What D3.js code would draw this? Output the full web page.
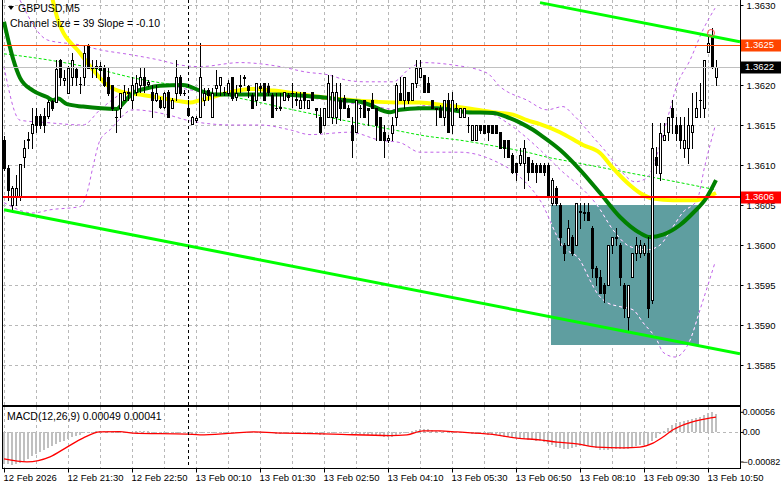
<!DOCTYPE html>
<html><head><meta charset="utf-8">
<script src="https://cdn.jsdelivr.net/npm/d3@7"></script>
<style>
body{margin:0;background:#fff}
svg{display:block}
text{font-family:'Liberation Sans',Arial,sans-serif}
</style></head>
<body><svg id="c" width="781" height="489"></svg>
<script>
// ---------------- DATA ----------------
const symbolTitle = "GBPUSD,M5";
const channelText = "Channel size = 39 Slope = -0.10";
const macdTitle = "MACD(12,26,9) 0.00049 0.00041";
const timeLabels = ["12 Feb 2026","12 Feb 21:30","12 Feb 22:50","13 Feb 00:10","13 Feb 01:30","13 Feb 02:50","13 Feb 04:10","13 Feb 05:30","13 Feb 06:50","13 Feb 08:10","13 Feb 09:30","13 Feb 10:50"];
const timeTickBars = [0,16,32,48,64,80,96,112,128,144,160,176];
const priceTicks = [1.3585,1.3590,1.3595,1.3600,1.3605,1.3610,1.3615,1.3620,1.3625,1.3630];
const macdTicks = [0.00056,0.00,-0.00082];

const opens = [1.36131,1.36096,1.36050,1.36060,1.36060,1.36110,1.36131,1.36140,1.36161,1.36161,1.36161,1.36161,1.36180,1.36179,1.36231,1.36206,1.36190,1.36210,1.36220,1.36201,1.36210,1.36250,1.36221,1.36221,1.36224,1.36221,1.36210,1.36200,1.36160,1.36171,1.36181,1.36190,1.36181,1.36191,1.36200,1.36210,1.36201,1.36191,1.36181,1.36181,1.36173,1.36191,1.36171,1.36190,1.36210,1.36190,1.36171,1.36151,1.36156,1.36160,1.36181,1.36194,1.36160,1.36196,1.36200,1.36191,1.36190,1.36210,1.36185,1.36199,1.36210,1.36199,1.36188,1.36181,1.36199,1.36203,1.36199,1.36188,1.36171,1.36171,1.36181,1.36188,1.36190,1.36181,1.36171,1.36191,1.36171,1.36191,1.36171,1.36160,1.36150,1.36160,1.36160,1.36160,1.36181,1.36184,1.36171,1.36150,1.36141,1.36171,1.36181,1.36171,1.36181,1.36171,1.36160,1.36141,1.36131,1.36140,1.36160,1.36190,1.36181,1.36191,1.36181,1.36203,1.36210,1.36213,1.36203,1.36181,1.36171,1.36171,1.36160,1.36181,1.36150,1.36171,1.36160,1.36160,1.36150,1.36131,1.36131,1.36150,1.36150,1.36150,1.36150,1.36150,1.36141,1.36131,1.36131,1.36113,1.36103,1.36103,1.36103,1.36110,1.36103,1.36100,1.36100,1.36100,1.36100,1.36053,1.36071,1.36050,1.36000,1.36000,1.36010,1.36000,1.36041,1.36041,1.36041,1.36021,1.35971,1.35960,1.35950,1.35950,1.36000,1.36010,1.36000,1.35950,1.35910,1.35960,1.35990,1.35990,1.35990,1.35990,1.35931,1.36110,1.36090,1.36131,1.36141,1.36171,1.36150,1.36150,1.36121,1.36121,1.36141,1.36160,1.36181,1.36171,1.36241,1.36263,1.36210];
const highs = [1.36136,1.36100,1.36074,1.36088,1.36101,1.36131,1.36141,1.36171,1.36171,1.36164,1.36171,1.36181,1.36181,1.36231,1.36233,1.36219,1.36224,1.36240,1.36221,1.36210,1.36250,1.36251,1.36231,1.36231,1.36229,1.36225,1.36221,1.36200,1.36169,1.36190,1.36200,1.36196,1.36210,1.36213,1.36223,1.36221,1.36206,1.36200,1.36200,1.36185,1.36191,1.36194,1.36184,1.36231,1.36213,1.36194,1.36181,1.36161,1.36161,1.36253,1.36196,1.36196,1.36196,1.36219,1.36210,1.36198,1.36206,1.36210,1.36200,1.36213,1.36213,1.36200,1.36190,1.36203,1.36203,1.36203,1.36203,1.36190,1.36190,1.36190,1.36191,1.36190,1.36203,1.36191,1.36191,1.36191,1.36181,1.36191,1.36171,1.36171,1.36171,1.36213,1.36213,1.36203,1.36203,1.36188,1.36175,1.36160,1.36181,1.36175,1.36181,1.36171,1.36190,1.36171,1.36160,1.36150,1.36138,1.36160,1.36203,1.36210,1.36210,1.36191,1.36203,1.36231,1.36231,1.36213,1.36210,1.36181,1.36171,1.36175,1.36181,1.36190,1.36191,1.36178,1.36171,1.36171,1.36160,1.36150,1.36150,1.36150,1.36150,1.36150,1.36150,1.36150,1.36141,1.36131,1.36131,1.36115,1.36103,1.36121,1.36131,1.36110,1.36106,1.36103,1.36103,1.36103,1.36103,1.36084,1.36074,1.36053,1.36003,1.36031,1.36013,1.36053,1.36053,1.36053,1.36053,1.36024,1.35974,1.35969,1.35953,1.36000,1.36010,1.36021,1.36003,1.35953,1.35950,1.35990,1.36010,1.36006,1.36003,1.36010,1.36153,1.36123,1.36153,1.36153,1.36160,1.36181,1.36160,1.36160,1.36160,1.36171,1.36190,1.36191,1.36203,1.36231,1.36263,1.36271,1.36231];
const lows = [1.36094,1.36056,1.36041,1.36050,1.36056,1.36098,1.36121,1.36121,1.36141,1.36146,1.36141,1.36159,1.36169,1.36179,1.36200,1.36200,1.36190,1.36200,1.36200,1.36190,1.36200,1.36221,1.36210,1.36210,1.36206,1.36199,1.36188,1.36169,1.36141,1.36160,1.36181,1.36181,1.36171,1.36188,1.36191,1.36191,1.36199,1.36160,1.36180,1.36171,1.36171,1.36160,1.36171,1.36181,1.36188,1.36188,1.36163,1.36151,1.36154,1.36160,1.36175,1.36181,1.36160,1.36188,1.36188,1.36188,1.36188,1.36181,1.36181,1.36191,1.36200,1.36185,1.36171,1.36175,1.36191,1.36181,1.36188,1.36160,1.36169,1.36169,1.36181,1.36181,1.36173,1.36175,1.36171,1.36171,1.36171,1.36181,1.36160,1.36140,1.36150,1.36160,1.36153,1.36153,1.36156,1.36171,1.36160,1.36110,1.36141,1.36160,1.36160,1.36150,1.36171,1.36131,1.36131,1.36110,1.36129,1.36131,1.36150,1.36181,1.36171,1.36178,1.36181,1.36198,1.36210,1.36191,1.36191,1.36171,1.36150,1.36160,1.36150,1.36141,1.36140,1.36169,1.36160,1.36160,1.36141,1.36131,1.36131,1.36140,1.36140,1.36131,1.36140,1.36140,1.36121,1.36110,1.36110,1.36090,1.36081,1.36100,1.36071,1.36081,1.36091,1.36079,1.36091,1.36088,1.36060,1.36050,1.36050,1.36000,1.35981,1.36000,1.35988,1.36000,1.36021,1.36031,1.36031,1.35960,1.35950,1.35940,1.35929,1.35950,1.35990,1.36000,1.35950,1.35910,1.35891,1.35960,1.35981,1.35985,1.35988,1.35910,1.35928,1.36090,1.36081,1.36131,1.36131,1.36140,1.36131,1.36121,1.36110,1.36103,1.36121,1.36160,1.36160,1.36160,1.36241,1.36221,1.36200];
const closes = [1.36096,1.36069,1.36071,1.36071,1.36101,1.36121,1.36133,1.36151,1.36150,1.36150,1.36150,1.36179,1.36171,1.36220,1.36210,1.36209,1.36221,1.36231,1.36210,1.36201,1.36240,1.36221,1.36221,1.36224,1.36219,1.36200,1.36190,1.36171,1.36160,1.36190,1.36191,1.36191,1.36200,1.36203,1.36210,1.36200,1.36204,1.36181,1.36190,1.36173,1.36190,1.36160,1.36181,1.36210,1.36190,1.36190,1.36163,1.36160,1.36159,1.36210,1.36190,1.36188,1.36190,1.36200,1.36210,1.36191,1.36203,1.36184,1.36190,1.36200,1.36209,1.36194,1.36171,1.36203,1.36196,1.36181,1.36191,1.36160,1.36171,1.36173,1.36191,1.36185,1.36190,1.36183,1.36181,1.36181,1.36181,1.36181,1.36169,1.36141,1.36171,1.36203,1.36191,1.36191,1.36171,1.36171,1.36160,1.36131,1.36181,1.36171,1.36160,1.36169,1.36171,1.36150,1.36131,1.36131,1.36134,1.36150,1.36200,1.36181,1.36210,1.36181,1.36203,1.36221,1.36221,1.36191,1.36191,1.36171,1.36170,1.36160,1.36181,1.36141,1.36181,1.36171,1.36171,1.36171,1.36150,1.36150,1.36150,1.36144,1.36140,1.36141,1.36140,1.36140,1.36121,1.36121,1.36110,1.36091,1.36091,1.36113,1.36121,1.36091,1.36091,1.36091,1.36091,1.36091,1.36060,1.36081,1.36053,1.36010,1.35990,1.36021,1.35990,1.36053,1.36043,1.36040,1.36031,1.35971,1.35960,1.35940,1.35940,1.36000,1.36010,1.36009,1.35960,1.35921,1.35950,1.35990,1.36000,1.36000,1.36000,1.35921,1.36121,1.36100,1.36140,1.36138,1.36160,1.36160,1.36140,1.36131,1.36131,1.36150,1.36150,1.36171,1.36181,1.36231,1.36253,1.36223,1.36223];

// MACD main (histogram) per bar
const macdMain = [-0.00088,-0.00090,-0.00092,-0.00090,-0.00086,-0.00080,-0.00074,-0.00066,-0.00060,-0.00055,-0.00050,-0.00045,-0.00040,-0.00033,-0.00028,-0.00024,-0.00019,-0.00014,-0.00011,-0.00008,-0.00004,-0.00002,0.00001,0.00003,0.00004,0.00004,0.00003,0.00001,-0.00001,-0.00001,-0.00001,0.00000,0.00001,0.00002,0.00003,0.00003,0.00002,0.00000,-0.00001,-0.00002,-0.00002,-0.00003,-0.00003,-0.00001,-0.00002,-0.00003,-0.00005,-0.00007,-0.00008,-0.00004,-0.00004,-0.00003,-0.00003,-0.00002,-0.00001,-0.00001,0.00000,-0.00001,-0.00001,0.00000,0.00001,0.00000,-0.00002,-0.00001,-0.00001,-0.00002,-0.00002,-0.00004,-0.00005,-0.00005,-0.00004,-0.00004,-0.00004,-0.00004,-0.00004,-0.00004,-0.00004,-0.00004,-0.00005,-0.00007,-0.00007,-0.00004,-0.00003,-0.00002,-0.00003,-0.00003,-0.00004,-0.00007,-0.00006,-0.00006,-0.00007,-0.00008,-0.00008,-0.00010,-0.00012,-0.00014,-0.00014,-0.00013,-0.00008,-0.00006,-0.00002,0.00000,0.00002,0.00006,0.00008,0.00008,0.00007,0.00005,0.00003,0.00002,0.00002,-0.00001,-0.00001,-0.00002,-0.00002,-0.00003,-0.00004,-0.00005,-0.00005,-0.00006,-0.00006,-0.00007,-0.00008,-0.00009,-0.00011,-0.00013,-0.00015,-0.00017,-0.00018,-0.00019,-0.00019,-0.00021,-0.00022,-0.00024,-0.00026,-0.00029,-0.00033,-0.00037,-0.00042,-0.00044,-0.00046,-0.00046,-0.00045,-0.00042,-0.00040,-0.00039,-0.00038,-0.00041,-0.00045,-0.00049,-0.00051,-0.00050,-0.00048,-0.00047,-0.00047,-0.00048,-0.00046,-0.00043,-0.00040,-0.00037,-0.00035,-0.00036,-0.00026,-0.00016,-0.00006,0.00004,0.00012,0.00020,0.00025,0.00028,0.00030,0.00033,0.00037,0.00040,0.00042,0.00047,0.00052,0.00056,0.00049];
// MACD signal, read as [bar, value]
const macdSignal = [[0,-0.00075],[5.75,-0.00083],[11.5,-0.00069],[15.75,-0.00042],[19.75,-0.00017],[24,0],[29,0.00001],[32.25,-0.00003],[45.75,-0.00006],[49,-0.00008],[57.25,-0.00003],[62.25,0],[69.75,-0.00003],[82.25,-0.00006],[96.5,-0.00010],[100.75,-0.00008],[104.75,0.00003],[109,0.00003],[113.25,0],[121.5,-0.00006],[128.25,-0.00017],[134,-0.00022],[138.25,-0.00028],[143.25,-0.00033],[148.25,-0.00042],[154.75,-0.00044],[159,-0.00042],[162.25,-0.00031],[164.75,-0.00014],[167.25,0.00006],[171.5,0.00026],[175.75,0.00037],[178,0.00041]];

// indicator lines, read as [bar, price]
const greenMA = [[0,1.36279],[2.25,1.36233],[4,1.36209],[7.25,1.36193],[10.75,1.36185],[12.25,1.36181],[13.5,1.36183],[15.75,1.36176],[19.75,1.36173],[28.25,1.36170],[29,1.36173],[32.25,1.36190],[35.75,1.36196],[39,1.36199],[44.75,1.36200],[49,1.36193],[52.25,1.36188],[60.75,1.36188],[69,1.36188],[76.5,1.36186],[80.75,1.36184],[84.75,1.36181],[89,1.36179],[91.5,1.36175],[96.5,1.36166],[99,1.36169],[104,1.36171],[108.25,1.36171],[115.75,1.36166],[122.25,1.36165],[125.75,1.36160],[129,1.36153],[132.25,1.36144],[134,1.36138],[139,1.36119],[144,1.36094],[149,1.36065],[154,1.36035],[159,1.36015],[161.5,1.36010],[164.75,1.36013],[169,1.36025],[172.25,1.36040],[175.75,1.36060],[178,1.36081]];
const yellowMA = [[12,1.36310],[13.5,1.36281],[19,1.36240],[22.25,1.36219],[25.75,1.36200],[29.75,1.36191],[34,1.36188],[39,1.36184],[44.75,1.36179],[46.5,1.36178],[49,1.36181],[52.25,1.36185],[56.5,1.36191],[62.25,1.36195],[67.25,1.36193],[72.25,1.36190],[80.75,1.36184],[87.25,1.36181],[93.25,1.36179],[99,1.36178],[104,1.36178],[109.75,1.36175],[115.75,1.36171],[122.25,1.36166],[127.25,1.36163],[130.75,1.36156],[134,1.36151],[139,1.36141],[144.75,1.36125],[149,1.36115],[152.25,1.36096],[155.75,1.36078],[159,1.36065],[162.25,1.36058],[167.25,1.36056],[173.25,1.36056],[175.75,1.36060],[178,1.36065]];
const slowMA = [[0,1.36239],[11.5,1.36231],[24,1.36219],[32.25,1.36209],[44.75,1.36198],[64,1.36178],[72.25,1.36169],[84.75,1.36156],[97.25,1.36144],[105.75,1.36136],[114,1.36131],[122.25,1.36124],[130.75,1.36116],[136.5,1.36109],[139.75,1.36106],[156.5,1.36090],[169,1.36078],[178,1.36069]];
// Bollinger bands (upper, middle, lower)
const bandUpper = [[4,1.36306],[11,1.36256],[19,1.36250],[24,1.36244],[31.5,1.36238],[39,1.36231],[44,1.36225],[49,1.36223],[59,1.36228],[69,1.36223],[75.75,1.36216],[80.75,1.36213],[85.75,1.36206],[90.25,1.36204],[97.25,1.36204],[101.5,1.36221],[104.75,1.36228],[112.25,1.36225],[120.75,1.36215],[124,1.36198],[130.75,1.36181],[135.75,1.36169],[139.75,1.36173],[142.25,1.36163],[147.25,1.36135],[150.75,1.36115],[154,1.36094],[157.75,1.36079],[160.75,1.36084],[163.25,1.36113],[165.75,1.36156],[168.25,1.36200],[171.5,1.36231],[174.75,1.36269],[177.75,1.36296]];
const bandMiddle = [[0,1.36223],[4,1.36156],[10.75,1.36153],[19.75,1.36150],[24,1.36169],[29,1.36188],[34,1.36196],[39,1.36200],[46.5,1.36194],[54,1.36188],[64,1.36188],[74,1.36185],[84,1.36179],[91.5,1.36174],[99,1.36169],[106.5,1.36175],[114,1.36173],[121.5,1.36165],[129,1.36141],[134,1.36119],[139.75,1.36091],[144,1.36073],[148.25,1.36050],[152.25,1.36019],[156.5,1.35998],[160.75,1.35994],[164,1.36000],[167.25,1.36023],[169.75,1.36041],[173.25,1.36056],[175.25,1.36100],[177.75,1.36148]];
const bandLower = [[0,1.36053],[7.25,1.36040],[11.5,1.36044],[19,1.36048],[20.75,1.36065],[22.25,1.36098],[24,1.36131],[26.5,1.36144],[32.25,1.36169],[40.75,1.36163],[45.75,1.36156],[49,1.36153],[57.25,1.36150],[64,1.36150],[71.5,1.36144],[76.5,1.36138],[86.5,1.36141],[94,1.36131],[99,1.36128],[104,1.36116],[114,1.36116],[122.25,1.36106],[129,1.36085],[134,1.36056],[139.75,1.35998],[144,1.35981],[146.5,1.35956],[148.25,1.35940],[150.75,1.35928],[154,1.35923],[157.25,1.35919],[159.75,1.35903],[163.25,1.35881],[164.75,1.35866],[167.75,1.35860],[171.5,1.35881],[174,1.35919],[177.75,1.35978]];

// price channel: lower line from its first anchor, upper line from its own anchor
const channelLower = [[0,1.36044],[184,1.35864]];
const channelUpper = [[134,1.36303],[184,1.36254]];
// horizontal levels
const levelOrange = 1.3625;
const levelRed = 1.3606;
// rectangle zone
const zoneBars = [136.75,173.75];
const zonePrices = [1.36050,1.35875];
// separator bar and marker
const separatorBar = 46;
const marker = [176.75,1.36265];

// ---------------- LAYOUT ----------------
const L=3, R=740, T=0, B1=405, T2=407, B2=468;
const FONT = "'Liberation Sans',Arial,sans-serif";
const svg = d3.select('#c');
const x = d3.scaleLinear().domain([0,178]).range([4,716]);
const y = d3.scaleLinear().domain([1.3585,1.3630]).range([365,5]);
const ym = d3.scaleLinear().domain([-0.00082,0.00056]).range([461.5,411.8]);

const defs = svg.append('defs');
defs.append('clipPath').attr('id','cm').append('rect').attr('x',L).attr('y',T).attr('width',R-L).attr('height',B1-T);
defs.append('clipPath').attr('id','cz').append('rect').attr('x',L).attr('y',T2).attr('width',R-L).attr('height',B2-T2);
defs.append('clipPath').attr('id','czone').append('rect')
  .attr('x',x(zoneBars[0])).attr('y',y(zonePrices[0]))
  .attr('width',x(zoneBars[1])-x(zoneBars[0])).attr('height',y(zonePrices[1])-y(zonePrices[0]));

const gm = svg.append('g').attr('clip-path','url(#cm)');
const gz = svg.append('g').attr('clip-path','url(#cz)');

const gridC = '#b8b8b8';
// vertical grid
const gridBars = d3.range(0,185,8);
[[gm,T,B1],[gz,T2,B2]].forEach(([g,a,b])=>{
  g.selectAll(null).data(gridBars).enter().append('line')
   .attr('x1',d=>Math.round(x(d))+0.5).attr('x2',d=>Math.round(x(d))+0.5)
   .attr('y1',a).attr('y2',b).attr('stroke',gridC).attr('stroke-dasharray','3,3');
});
// horizontal grid
gm.selectAll(null).data(priceTicks).enter().append('line')
  .attr('x1',L).attr('x2',R).attr('y1',d=>Math.round(y(d))+0.5).attr('y2',d=>Math.round(y(d))+0.5)
  .attr('stroke',gridC).attr('stroke-dasharray','3,3');
gz.append('line').attr('x1',L).attr('x2',R).attr('y1',Math.round(ym(0))+0.5).attr('y2',Math.round(ym(0))+0.5)
  .attr('stroke',gridC).attr('stroke-dasharray','3,3');

// zone rectangle
gm.append('rect').attr('x',x(zoneBars[0])).attr('y',y(zonePrices[0]))
  .attr('width',x(zoneBars[1])-x(zoneBars[0])).attr('height',y(zonePrices[1])-y(zonePrices[0]))
  .attr('fill','#5f9ea0');

const line = d3.line().x(d=>x(d[0])).y(d=>y(d[1])).curve(d3.curveMonotoneX);
// slow MA dashed
gm.append('path').attr('d',line(slowMA)).attr('fill','none').attr('stroke','#00e600').attr('stroke-width',1).attr('stroke-dasharray','3,2');
// bands (purple, white where they cross the zone)
[bandUpper,bandMiddle,bandLower].forEach(b=>{
  gm.append('path').attr('d',line(b)).attr('fill','none').attr('stroke','#c062e8').attr('stroke-width',1).attr('stroke-dasharray','3,3');
  gm.append('path').attr('d',line(b)).attr('fill','none').attr('stroke','#ffffff').attr('stroke-width',1).attr('stroke-dasharray','3,3').attr('clip-path','url(#czone)');
});
// yellow and green MAs
gm.append('path').attr('d',line(yellowMA)).attr('fill','none').attr('stroke','#ffff00').attr('stroke-width',4);
gm.append('path').attr('d',line(greenMA)).attr('fill','none').attr('stroke','#008000').attr('stroke-width',4);

// candles
const cg = gm.append('g').attr('shape-rendering','crispEdges');
opens.forEach((o,i)=>{
  const cx = Math.round(x(i));
  const yo=Math.round(y(o)), yc=Math.round(y(closes[i])), yh=Math.round(y(highs[i])), yl=Math.round(y(lows[i]));
  cg.append('rect').attr('x',cx).attr('y',yh).attr('width',1).attr('height',Math.max(1,yl-yh+1)).attr('fill','#000');
  const top=Math.min(yo,yc), bot=Math.max(yo,yc);
  cg.append('rect').attr('x',cx-1).attr('y',top).attr('width',3).attr('height',bot-top+1).attr('fill','#000');
  if (closes[i]>o && bot-top>1) {
    cg.append('rect').attr('x',cx).attr('y',top+1).attr('width',1).attr('height',bot-top-1).attr('fill','#fff');
  }
});

// channel lines
const lineLin = d3.line().x(d=>x(d[0])).y(d=>y(d[1]));
[channelUpper,channelLower].forEach(c=>{
  gm.append('path').attr('d',lineLin(c)).attr('stroke','#00ff00').attr('stroke-width',3).attr('fill','none');
});

// horizontal level lines
const bid = closes[closes.length-1];
gm.append('line').attr('x1',L).attr('x2',R).attr('y1',Math.round(y(bid))+0.5).attr('y2',Math.round(y(bid))+0.5).attr('stroke','#c0c0c0');
gm.append('line').attr('x1',L).attr('x2',R).attr('y1',Math.round(y(levelOrange))+0.5).attr('y2',Math.round(y(levelOrange))+0.5).attr('stroke','#ff4500');
gm.append('line').attr('x1',L).attr('x2',R).attr('y1',y(levelRed)).attr('y2',y(levelRed)).attr('stroke','#ff0000').attr('stroke-width',2);

// marker circle
gm.append('circle').attr('cx',x(marker[0])).attr('cy',y(marker[1])).attr('r',3.5).attr('fill','none').attr('stroke','#ff5050');

// MACD histogram and signal
gz.append('g').attr('shape-rendering','crispEdges').selectAll(null).data(macdMain).enter().append('rect')
  .attr('x',(d,i)=>Math.round(x(i))-1).attr('width',2)
  .attr('y',d=>Math.round(Math.min(ym(d),ym(0)))).attr('height',d=>Math.max(1,Math.round(Math.abs(ym(d)-ym(0)))))
  .attr('fill','#c0c0c0');
const mline = d3.line().x(d=>x(d[0])).y(d=>ym(d[1])).curve(d3.curveMonotoneX);
gz.append('path').attr('d',mline(macdSignal)).attr('fill','none').attr('stroke','#ff0000').attr('stroke-width',1.3);

// separator dashed vertical
svg.append('line').attr('x1',Math.round(x(separatorBar))+0.5).attr('x2',Math.round(x(separatorBar))+0.5)
  .attr('y1',T).attr('y2',B2).attr('stroke','#000').attr('stroke-dasharray','3,3');

// frames
const fr = svg.append('g').attr('fill','none').attr('stroke','#000').attr('shape-rendering','crispEdges');
fr.append('rect').attr('x',L-0.5).attr('y',-0.5).attr('width',R-L+1).attr('height',B1+1);
fr.append('rect').attr('x',L-0.5).attr('y',T2-0.5).attr('width',R-L+1).attr('height',B2-T2+1);

// price axis
const ax = svg.append('g').attr('transform',`translate(${R+0.5},0)`)
  .call(d3.axisRight(y).tickValues(priceTicks).tickSize(3).tickPadding(3).tickFormat(d3.format('.4f')));
ax.select('.domain').remove();
ax.selectAll('text').attr('font-size',9.5).attr('fill','#000').attr('font-family',FONT);
ax.selectAll('line').attr('stroke','#000');

// macd axis
const axm = svg.append('g').attr('transform',`translate(${R+0.5},0)`)
  .call(d3.axisRight(ym).tickValues(macdTicks).tickSize(3).tickPadding(0).tickFormat(d=>d===0?'0.00':d3.format('.5f')(d)));
axm.select('.domain').remove();
axm.selectAll('text').attr('x',2).attr('font-size',9).attr('fill','#000').attr('font-family',FONT);
axm.selectAll('line').attr('stroke','#000');

// time axis
const axt = svg.append('g').attr('transform',`translate(0,${B2+0.5})`)
  .call(d3.axisBottom(x).tickValues(timeTickBars).tickSize(4).tickPadding(2).tickFormat((d,i)=>timeLabels[i]));
axt.select('.domain').remove();
axt.selectAll('text').attr('text-anchor','start').attr('dx',-1).attr('font-size',9.5).attr('fill','#000').attr('font-family',FONT);
axt.selectAll('line').attr('stroke','#000');

// price tag boxes
function tag(price, bg, fg){
  const yy = y(price);
  svg.append('rect').attr('x',R+1).attr('y',Math.round(yy)-5.5).attr('width',781-R-1).attr('height',12).attr('fill',bg);
  svg.append('text').attr('x',R+5).attr('y',yy).attr('dy','0.35em').attr('font-size',9.5).attr('fill',fg).text(d3.format('.4f')(price));
}
tag(levelOrange,'#ff4500','#fff');
tag(bid,'#000','#fff');
tag(levelRed,'#ff0000','#fff');

// header
svg.append('path').attr('d','M8,6 L14,6 L11,10 Z').attr('fill','#000');
svg.append('text').attr('x',18).attr('y',12).attr('font-size',10.5).attr('fill','#000').text(symbolTitle);
svg.append('text').attr('x',10).attr('y',27).attr('font-size',10.5).attr('fill','#000').text(channelText);
svg.append('text').attr('x',7).attr('y',420).attr('font-size',10.5).attr('fill','#000').text(macdTitle);
</script></body></html>
